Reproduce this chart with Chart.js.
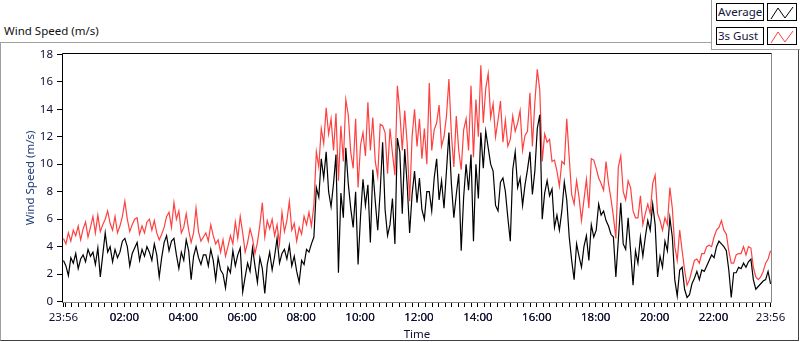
<!DOCTYPE html>
<html>
<head>
<meta charset="utf-8">
<script src="https://cdn.jsdelivr.net/npm/chart.js@4/dist/chart.umd.min.js"></script>
<style>
  html, body { margin: 0; padding: 0; background: #fff; }
  body { width: 800px; height: 342px; position: relative; overflow: hidden; font-family: "Noto Sans", sans-serif; }
  #caption { position: absolute; left: 4px; top: 24px; font-size: 11.5px; color: #111; line-height: 14px; }
  #frame { position: absolute; left: 0; top: 42px; width: 797px; height: 297px;
           border-left: 1px solid #a0a0a0; border-top: 1px solid #a0a0a0;
           border-right: 1px solid #404040; border-bottom: 1px solid #404040; }
  #legendPanel { position: absolute; left: 711px; top: 0; width: 88px; height: 49px; background: #fff;
                 border-left: 1px solid #a0a0a0; border-bottom: 1px solid #a0a0a0; }
  .lgText { position: absolute; left: 716px; width: 45px; height: 16px; border: 1px solid #000;
            font-size: 11.5px; line-height: 16px; color: #14143c; padding-left: 1px; background: #fff; }
  .lgIcon { position: absolute; left: 767px; width: 28px; height: 16px; border: 1px solid #000; background: #fff; }
  #chartBox { position: absolute; left: 0; top: 42px; width: 800px; height: 300px; }
</style>
</head>
<body>
<div id="caption">Wind Speed (m/s)</div>
<div id="frame"></div>
<div id="legendPanel"></div>
<div class="lgText" style="top:3px">Average</div>
<div class="lgIcon" style="top:3px"><svg width="28" height="16"><polyline points="3,14 10,3 17,13 25,2" fill="none" stroke="#000" stroke-width="1"/></svg></div>
<div class="lgText" style="top:27px">3s Gust</div>
<div class="lgIcon" style="top:27px"><svg width="28" height="16"><polyline points="3,14 10,3 17,13 25,2" fill="none" stroke="#ff4040" stroke-width="1"/></svg></div>
<div id="chartBox"><canvas id="windChart" width="800" height="300"></canvas></div>

<script>
// samples every 5 minutes starting 23:56
const sampleStepMin = 5;

const avgSpeed = [
  3.0, 2.6, 1.9, 3.2, 2.8, 3.5, 2.4, 3.1, 3.4, 2.9,
  3.8, 3.3, 3.6, 2.7, 3.9, 1.8, 3.4, 5.0, 3.6, 4.0,
  2.9, 3.8, 3.2, 3.6, 4.4, 4.6, 4.0, 2.6, 3.5, 3.9,
  4.3, 3.0, 3.8, 3.3, 4.0, 3.6, 3.0, 4.2, 3.4, 1.8,
  3.2, 4.3, 4.8, 3.7, 4.4, 4.6, 3.4, 2.4, 3.6, 3.0,
  4.5, 3.7, 1.6, 3.3, 4.0, 3.2, 2.7, 3.4,
  3.4, 2.6, 3.8, 3.0, 1.6, 3.2, 2.3, 2.0, 1.0, 2.5,
  2.1, 3.7, 2.6, 3.4, 3.9, 0.7, 1.8, 2.8, 2.2, 3.9,
  2.6, 1.4, 3.2, 2.4, 0.6, 2.7, 3.6, 2.3, 3.3, 4.6,
  2.8, 3.5, 3.8, 3.1, 4.1, 2.6, 3.3, 2.2, 1.4, 3.0,
  2.7, 3.8, 3.6, 4.2, 4.7, 8.3, 7.6, 10.4, 9.0, 10.9,
  8.0, 6.9, 8.6, 10.7, 2.1, 7.9, 6.1,
  11.2, 8.6, 6.8, 5.4, 8.0, 2.7, 6.2, 8.9, 7.0, 8.5,
  4.3, 9.6, 7.3, 5.2, 8.0, 11.6, 6.7, 4.8, 5.6, 7.5,
  4.2, 11.9, 10.9, 6.4, 11.1, 8.5, 5.0, 7.8, 9.5, 7.2,
  9.0, 6.7, 6.0, 8.0, 8.0, 6.6, 9.0, 10.4, 7.4, 8.8,
  6.8, 9.5, 12.3, 8.6, 6.1, 7.8, 9.3, 3.7, 7.6, 10.0,
  8.1, 10.7, 4.4, 10.0, 7.5, 12.3, 9.7,
  12.4, 11.2, 10.0, 9.5, 7.0, 6.6, 8.7, 9.0, 8.0, 6.1,
  4.4, 9.6, 10.9, 8.3, 9.0, 7.0, 8.5, 9.6, 10.9, 7.8,
  9.5, 12.6, 13.6, 6.0, 7.9, 8.8, 7.7, 8.2, 5.4, 6.3,
  5.2, 6.6, 8.7, 7.4, 4.7, 3.0, 1.6, 4.2, 3.3, 2.5,
  4.0, 4.8, 3.0, 5.6, 4.7, 5.2, 7.1, 6.3, 6.6, 5.9,
  5.5, 4.9, 4.7, 1.8, 4.5, 7.2, 4.2, 3.8,
  6.1, 3.7, 1.2, 3.7, 2.8, 4.7, 3.3, 4.7, 5.9, 5.2,
  7.1, 5.6, 1.8, 3.3, 2.5, 4.4, 3.7, 6.1, 4.7, 1.6,
  0.4, 2.3, 2.5, 0.9, 0.3, 0.5, 1.3, 1.7, 2.2, 1.6,
  2.3, 2.2, 2.6, 3.0, 3.4, 3.2, 4.0, 4.4, 4.2, 4.0,
  3.7, 2.3, 0.3, 2.1, 2.1, 2.5, 2.4, 2.8, 2.5, 2.9,
  3.1, 1.6, 0.9, 1.1, 1.3, 1.5, 1.6, 2.2, 1.3
];

const gustSpeed = [
  4.6, 4.2, 5.0, 4.4, 5.2, 4.8, 5.5, 4.5, 5.3, 5.8,
  4.7, 5.4, 6.2, 5.0, 6.3, 5.1, 5.6, 6.0, 6.6, 5.7,
  5.2, 6.2, 5.0, 5.5, 6.2, 7.3, 6.0, 5.1, 5.6, 6.0,
  6.1, 4.9, 5.5, 5.0, 5.8, 6.0, 5.2, 5.9, 5.0, 4.5,
  4.9, 5.4, 6.2, 6.5, 5.4, 7.2, 6.0, 6.6, 5.0, 5.4,
  6.4, 5.2, 4.3, 5.0, 6.8, 5.1, 4.4, 4.7,
  5.0, 4.4, 5.6, 4.8, 4.2, 4.5, 3.6, 4.5, 3.3, 4.0,
  4.8, 4.2, 5.8, 4.6, 6.2, 5.0, 3.6, 4.3, 5.3, 4.6,
  3.5, 4.3, 5.6, 7.2, 4.7, 5.9, 5.3, 6.0, 4.8, 5.6,
  4.2, 6.5, 5.1, 5.9, 7.3, 5.2, 5.7, 4.4, 5.4, 4.9,
  6.2, 5.6, 6.5, 5.5, 7.0, 10.9, 9.8, 12.6, 11.5, 14.1,
  12.2, 13.3, 11.0, 13.7, 8.8, 12.8, 10.2,
  14.7, 13.6, 10.9, 9.7, 13.3, 8.3, 11.4, 12.3, 10.6, 14.5,
  11.0, 13.4, 10.2, 9.1, 12.9, 12.8, 12.3, 9.3, 12.6, 10.8,
  9.2, 15.7, 13.8, 11.0, 13.9, 11.5, 7.3, 12.0, 14.0, 11.3,
  13.3, 10.4, 12.6, 10.0, 15.9, 11.0, 12.5, 13.0, 14.3, 11.3,
  12.0, 13.5, 16.2, 12.2, 9.8, 13.5, 11.0, 9.6, 12.5, 13.3,
  11.0, 15.7, 10.5, 14.7, 12.0, 17.2, 13.0,
  15.5, 16.6, 13.4, 14.4, 12.0, 13.2, 14.6, 11.6, 13.2, 11.3,
  11.8, 13.5, 12.4, 13.0, 13.9, 11.0, 12.1, 12.4, 15.2, 11.3,
  14.5, 16.9, 15.4, 10.2, 12.2, 11.6, 11.8, 10.2, 10.3, 9.5,
  8.4, 10.2, 10.0, 13.3, 10.5, 7.8, 7.1, 8.8, 7.6, 5.9,
  7.4, 8.9, 6.8, 10.4, 10.3, 9.7, 9.0, 8.6, 8.1, 10.2,
  8.6, 7.5, 6.2, 4.6, 9.8, 10.6, 8.0, 7.4,
  8.8, 8.3, 6.6, 6.1, 6.1, 7.7, 5.6, 6.4, 7.1, 6.4,
  8.6, 9.2, 6.4, 5.9, 5.2, 6.1, 5.6, 8.3, 6.8, 4.0,
  3.0, 5.2, 3.7, 2.3, 1.2, 1.6, 2.3, 3.0, 3.1, 2.8,
  3.5, 3.5, 4.0, 4.1, 4.0, 4.7, 5.2, 5.4, 5.9, 5.2,
  4.9, 3.7, 2.8, 2.8, 3.4, 3.5, 3.5, 4.0, 3.4, 4.0,
  3.9, 2.5, 1.8, 1.6, 1.8, 2.2, 2.8, 3.1, 3.7
];

// x tick labels (minutes after 23:56)
const timeLabels = ['23:56', '02:00', '04:00', '06:00', '08:00', '10:00', '12:00',
                    '14:00', '16:00', '18:00', '20:00', '22:00', '23:56'];
const timeLabelMin = [0, 124, 244, 364, 484, 604, 724, 844, 964, 1084, 1204, 1324, 1440];
const yTickValues = [0, 2, 4, 6, 8, 10, 12, 14, 16, 18];

const FONT = "'Noto Sans', sans-serif";

// minor ticks: 9 per two hours starting from 00:00
let xTickList = [];
for (let t = 4; t < 1440; t += 120 / 9) xTickList.push(Math.round(t * 100) / 100);
xTickList = xTickList.concat(timeLabelMin).sort((a, b) => a - b);

let plotFrame = {
  id: 'plotFrame',
  afterDatasetsDraw(chart) {
    const a = chart.chartArea, ctx = chart.ctx;
    const l = Math.round(a.left) + 0.5, r = Math.round(a.right) - 0.5;
    const t = Math.round(a.top) + 0.5, b = Math.round(a.bottom) - 0.5;
    ctx.save();
    ctx.lineWidth = 1;
    ctx.strokeStyle = '#888';
    ctx.beginPath();
    ctx.moveTo(r, t); ctx.lineTo(r, b); ctx.lineTo(l, b);
    ctx.stroke();
    ctx.strokeStyle = '#000';
    ctx.beginPath();
    ctx.moveTo(l, b); ctx.lineTo(l, t); ctx.lineTo(r, t);
    ctx.stroke();
    ctx.restore();
  }
};

let windChart = new Chart(document.getElementById('windChart'), {
  type: 'line',
  data: {
    datasets: [{
      label: 'Average',
      data: avgSpeed.map((v, i) => ({ x: i * sampleStepMin, y: v })),
      borderColor: '#000',
      borderWidth: 1.2,
      pointRadius: 0,
      tension: 0
    }, {
      label: '3s Gust',
      data: gustSpeed.map((v, i) => ({ x: i * sampleStepMin, y: v })),
      borderColor: '#ff4040',
      borderWidth: 1.2,
      pointRadius: 0,
      tension: 0
    }]
  },
  options: {
    responsive: false,
    animation: false,
    layout: { padding: { left: 0, top: 9, right: 28, bottom: 0 } },
    plugins: { legend: { display: false }, tooltip: { enabled: false } },
    scales: {
      x: {
        type: 'linear',
        min: -3,
        max: 1443,
        afterFit: (s) => { s.height = 39; },
        afterBuildTicks: (s) => { s.ticks = xTickList.map(v => ({ value: v })); },
        grid: { drawOnChartArea: false, drawTicks: true, tickLength: 4, tickColor: '#000' },
        border: { display: false },
        ticks: {
          autoSkip: false,
          maxRotation: 0,
          padding: 4,
          color: '#101030',
          font: { family: FONT, size: 11.5 },
          callback: (v) => {
            const i = timeLabelMin.indexOf(v);
            return i >= 0 ? timeLabels[i] : '';
          }
        },
        title: { display: true, text: 'Time', color: '#101030', font: { family: FONT, size: 11.5 }, padding: { top: 0, bottom: 0 } }
      },
      y: {
        min: -0.1,
        max: 18.1,
        afterFit: (s) => { s.width = 62; },
        afterBuildTicks: (s) => { s.ticks = yTickValues.map(v => ({ value: v })); },
        grid: { drawOnChartArea: false, drawTicks: true, tickLength: 5, tickColor: '#000' },
        border: { display: false },
        ticks: { padding: 4, color: '#101030', font: { family: FONT, size: 11.5 } },
        title: { display: true, text: 'Wind Speed (m/s)', color: '#1e3a78', font: { family: FONT, size: 11.5 }, padding: { top: 24, bottom: 0 } }
      }
    }
  },
  plugins: [plotFrame]
});
</script>
</body>
</html>
